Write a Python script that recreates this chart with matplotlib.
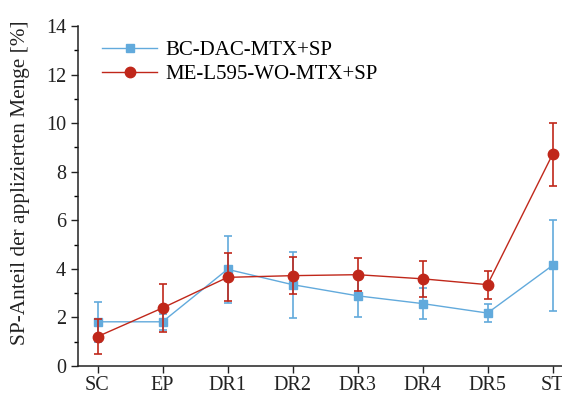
import matplotlib
matplotlib.use("Agg")
import matplotlib.pyplot as plt
from matplotlib.ticker import MultipleLocator
from matplotlib.lines import Line2D
import numpy as np

categories = ["SC", "EP", "DR1", "DR2", "DR3", "DR4", "DR5", "ST"]
bc_mean = [1.82, 1.82, 3.98, 3.35, 2.89, 2.57, 2.18, 4.14]
bc_sd = [0.83, 0.32, 1.39, 1.36, 0.89, 0.64, 0.38, 1.87]
me_mean = [1.21, 2.39, 3.65, 3.72, 3.76, 3.59, 3.35, 8.71]
me_sd = [0.71, 1.00, 0.99, 0.75, 0.69, 0.75, 0.58, 1.30]

plt.rcParams["font.family"] = ["Liberation Serif", "DejaVu Serif"]

fig = plt.figure(figsize=(5.62, 3.94), dpi=100)
ax = fig.add_axes([78 / 562, 1 - 366 / 394, 494 / 562, 340 / 394])

x = np.arange(len(categories))
blue = "#62aadc"
red = "#c0271a"

ax.errorbar(x, bc_mean, yerr=bc_sd, color=blue, lw=1.0, marker="s", ms=6,
            mec=blue, mfc=blue, ecolor=blue, elinewidth=1.2, capsize=3,
            capthick=1.2, zorder=3)
ax.errorbar(x, me_mean, yerr=me_sd, color=red, lw=1.0, marker="o", ms=7.5,
            mec=red, mfc=red, ecolor=red, elinewidth=1.2, capsize=3,
            capthick=1.2, zorder=4)

handles = [
    Line2D([], [], color=blue, lw=1.0, marker="s", ms=6, mec=blue, mfc=blue),
    Line2D([], [], color=red, lw=1.0, marker="o", ms=7.5, mec=red, mfc=red),
]
labels = ["BC-DAC-MTX+SP", "ME-L595-WO-MTX+SP"]

ax.set_xlim(-0.3, 7.3)
ax.set_ylim(0, 14)
ax.set_xticks(x)
ax.set_xticklabels(categories)
ax.yaxis.set_major_locator(MultipleLocator(2))
ax.yaxis.set_minor_locator(MultipleLocator(1))
ax.tick_params(axis="both", which="major", direction="out", length=5,
               width=1, labelsize=14.5, colors="#222222")
ax.tick_params(axis="x", which="major", pad=2)
ax.tick_params(axis="y", which="minor", direction="out", length=3, width=1)
ax.spines["top"].set_visible(False)
ax.spines["right"].set_visible(False)
for s in ("left", "bottom"):
    ax.spines[s].set_linewidth(1.1)
    ax.spines[s].set_color("#222222")

ax.set_ylabel("SP-Anteil der applizierten Menge [%]", fontsize=15.3,
              color="#222222")
ax.yaxis.set_label_coords(-0.097, 0.538)

ax.legend(handles, labels, loc="upper left", bbox_to_anchor=(0.02, 1.0),
          frameon=False, fontsize=15, handlelength=2.6, handletextpad=0.4,
          labelspacing=0.2, borderaxespad=0.3)

fig.savefig("out.png", dpi=100)
